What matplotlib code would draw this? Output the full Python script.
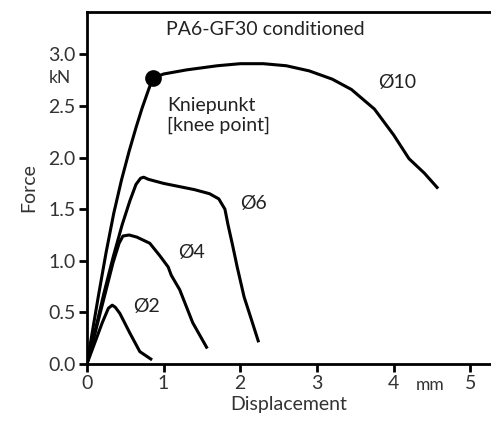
import matplotlib.pyplot as plt

plt.rcParams['font.family'] = ['Lato', 'DejaVu Sans']

# Kraft-Weg-Kurven (mm, kN)
x_d10 = [0, 0.05, 0.15, 0.25, 0.35, 0.45, 0.55, 0.64, 0.72, 0.8, 0.86, 1.0, 1.3, 1.7, 2.0, 2.3, 2.6, 2.9, 3.2, 3.45, 3.75, 4.0, 4.2, 4.4, 4.58]
f_d10 = [0, 0.22, 0.66, 1.08, 1.46, 1.78, 2.06, 2.29, 2.48, 2.65, 2.77, 2.81, 2.85, 2.89, 2.91, 2.91, 2.89, 2.84, 2.76, 2.66, 2.47, 2.22, 1.99, 1.85, 1.70]
x_d6 = [0, 0.1, 0.22, 0.34, 0.46, 0.56, 0.64, 0.7, 0.74, 0.8, 1.0, 1.2, 1.4, 1.6, 1.72, 1.8, 1.84, 1.9, 1.96, 2.05, 2.15, 2.24]
f_d6 = [0, 0.3, 0.68, 1.03, 1.35, 1.58, 1.74, 1.8, 1.81, 1.79, 1.75, 1.72, 1.69, 1.65, 1.6, 1.5, 1.35, 1.15, 0.94, 0.65, 0.42, 0.21]
x_d4 = [0, 0.1, 0.22, 0.34, 0.42, 0.47, 0.55, 0.65, 0.82, 0.95, 1.06, 1.1, 1.21, 1.38, 1.57]
f_d4 = [0, 0.28, 0.63, 0.98, 1.17, 1.24, 1.25, 1.23, 1.17, 1.05, 0.94, 0.86, 0.72, 0.40, 0.15]
x_d2 = [0, 0.1, 0.2, 0.28, 0.33, 0.37, 0.43, 0.56, 0.69, 0.85]
f_d2 = [0, 0.2, 0.4, 0.54, 0.57, 0.55, 0.49, 0.30, 0.12, 0.04]
knee = (0.86, 2.77)

xticks = [0, 1, 2, 3, 4, 5]
yticks = [0.0, 0.5, 1.0, 1.5, 2.0, 2.5, 3.0]

fs_main = 14
fig = plt.figure(figsize=(4.91, 4.24), dpi=100)
ax = fig.add_axes([0.177, 0.1415, 0.823, 0.830])

for xs, fs in [(x_d10, f_d10), (x_d6, f_d6), (x_d4, f_d4), (x_d2, f_d2)]:
    ax.plot(xs, fs, color='black', lw=2.2, solid_capstyle='butt', solid_joinstyle='round')
ax.plot(*knee, 'o', color='black', markersize=11)

ax.set_xlim(0, 5.27)
ax.set_ylim(0, 3.41)
ax.set_xticks(xticks)
ax.set_yticks(yticks)
ax.set_xticklabels([str(t) for t in xticks])
ax.set_yticklabels(['%.1f' % t for t in yticks])
ax.tick_params(direction='out', length=6, width=2, labelsize=fs_main, colors='black',
               labelcolor='#333333', pad=2)
ax.spines['right'].set_visible(False)
for s in ['left', 'bottom', 'top']:
    ax.spines[s].set_linewidth(2)

ax.set_xlabel('Displacement', fontsize=fs_main, color='#333333', labelpad=3)
ax.set_ylabel('Force', fontsize=fs_main, color='#333333', labelpad=8)

# Beschriftungen
ax.text(0.195, 0.975, 'PA6-GF30 conditioned', transform=ax.transAxes, fontsize=fs_main, color='#222222', va='top')
ax.text(-0.35, 2.77, 'kN', fontsize=12.5, color='#333333', ha='center', va='center', clip_on=False)
ax.text(4.47, -0.2, 'mm', fontsize=12.5, color='#333333', ha='center', va='center', clip_on=False)
ax.text(1.05, 2.41, 'Kniepunkt\n[knee point]', fontsize=fs_main, color='#222222', ha='left', va='center', linespacing=1.2)
ax.text(3.8, 2.73, 'Ø10', fontsize=fs_main, color='#222222', ha='left', va='center')
ax.text(2.0, 1.56, 'Ø6', fontsize=fs_main, color='#222222', ha='left', va='center')
ax.text(1.19, 1.08, 'Ø4', fontsize=fs_main, color='#222222', ha='left', va='center')
ax.text(0.6, 0.56, 'Ø2', fontsize=fs_main, color='#222222', ha='left', va='center')

fig.savefig('out.png', dpi=100)
